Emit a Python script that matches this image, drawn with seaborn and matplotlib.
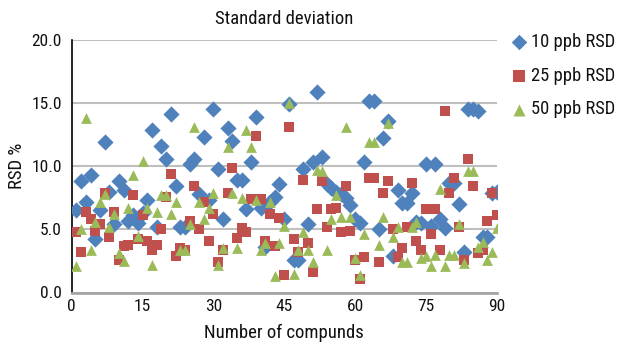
import matplotlib
matplotlib.use("Agg")
import matplotlib.pyplot as plt
from matplotlib import font_manager as fm
import seaborn as sns
import pandas as pd
import numpy as np

sns.set_theme(style="white")
_avail = {f.name for f in fm.fontManager.ttflist}
_fams = [f for f in ['Roboto Condensed', 'Archivo Narrow', 'Barlow Semi Condensed', 'DejaVu Sans Condensed'] if f in _avail]
plt.rcParams['font.family'] = _fams + ['DejaVu Sans']

compounds = list(range(1, 91))

rsd_10 = [6.5, 8.8, 7.2, 9.3, 4.2, 6.5, 11.9, 8.0, 5.4, 8.8,
          8.1, 5.7, 6.1, 5.5, 6.3, 7.3, 12.9, 5.2, 11.6, 10.6,
          14.1, 8.4, 5.2, 5.2, 10.2, 10.6, 7.8, 12.3, 7.3, 14.5,
          9.8, 5.8, 13.0, 12.0, 8.9, 8.9, 6.6, 10.3, 13.9, 6.7,
          3.6, 7.2, 7.6, 8.6, 5.8, 14.9, 2.6, 2.6, 9.8, 5.4,
          10.3, 15.9, 10.7, 8.6, 8.3, 8.0, 7.8, 7.5, 6.9, 5.8,
          5.5, 10.3, 15.2, 15.2, 5.0, 12.2, 13.6, 2.9, 8.1, 7.1,
          7.1, 7.9, 5.6, 5.5, 10.2, 5.3, 10.2, 5.8, 5.1, 8.7,
          8.7, 7.0, 3.2, 14.5, 14.5, 14.4, 4.4, 4.4, 7.9, 8.0]

rsd_25 = [4.8, 3.2, 6.4, 5.8, 4.9, 5.4, 7.9, 4.4, 6.4, 2.6,
          3.7, 3.8, 7.7, 4.2, 6.1, 4.1, 3.4, 3.8, 5.0, 7.6,
          9.4, 2.9, 3.5, 3.4, 5.7, 8.4, 5.0, 7.2, 4.1, 6.2,
          2.4, 3.4, 7.9, 9.9, 4.3, 5.1, 4.8, 7.4, 12.4, 7.4,
          4.1, 6.2, 3.7, 5.9, 1.4, 13.1, 4.2, 3.2, 8.9, 3.9,
          1.6, 6.6, 8.8, 5.2, 6.6, 6.7, 4.8, 8.4, 4.9, 2.6,
          1.1, 2.8, 9.1, 9.1, 2.4, 7.9, 8.8, 5.0, 2.8, 3.5,
          5.2, 8.7, 4.1, 3.4, 6.6, 4.6, 6.6, 3.4, 14.4, 7.9,
          9.1, 5.2, 2.6, 10.6, 8.4, 3.1, 3.4, 5.7, 7.9, 6.1]

rsd_50 = [2.1, 5.0, 13.8, 3.4, 5.6, 7.2, 7.8, 5.2, 6.2, 3.1,
          2.5, 6.7, 9.3, 4.5, 10.4, 6.7, 2.2, 6.4, 7.7, 7.7,
          6.2, 7.2, 3.4, 3.4, 5.4, 13.1, 7.2, 5.8, 6.7, 7.9,
          2.2, 3.5, 11.5, 7.9, 3.5, 7.5, 12.9, 11.5, 7.3, 3.4,
          3.9, 7.2, 1.3, 3.9, 5.3, 15.0, 1.5, 3.4, 4.8, 3.4,
          2.4, 9.7, 9.6, 3.4, 5.8, 7.7, 6.0, 13.1, 6.0, 2.7,
          1.4, 4.6, 11.9, 11.9, 3.8, 6.0, 13.4, 4.4, 5.2, 2.4,
          2.4, 5.2, 5.6, 2.7, 2.9, 2.1, 3.0, 8.2, 2.1, 3.0,
          3.0, 5.4, 2.3, 9.6, 9.6, 3.6, 4.0, 2.6, 3.2, 5.1]

series_names = ["10 ppb RSD", "25 ppb RSD", "50 ppb RSD"]
series_values = [rsd_10, rsd_25, rsd_50]
colors = ["#4F81BD", "#C0504D", "#9BBB59"]
markers = ["D", "s", "^"]
sizes = [68, 48, 60]
legend_sizes = [62, 80, 75]

x_ticks = [0, 15, 30, 45, 60, 75, 90]
y_ticks = [0.0, 5.0, 10.0, 15.0, 20.0]

fig = plt.figure(figsize=(6.17, 3.46), dpi=100)
ax = fig.add_axes([71.7 / 617, (346 - 292.5) / 346, 425 / 617, 252.5 / 346])

for name, vals, c, m, s in zip(series_names, series_values, colors, markers, sizes):
    df = pd.DataFrame({"compound": compounds, "rsd": vals})
    sns.scatterplot(data=df, x="compound", y="rsd", ax=ax, color=c, marker=m,
                    s=s, linewidth=0, label=name, zorder=3)

ax.set_xlim(0, 90)
ax.set_ylim(0, 20)
ax.set_xticks(x_ticks)
ax.set_xticklabels([str(t) for t in x_ticks])
ax.set_yticks(y_ticks)
ax.set_yticklabels([f"{t:.1f}" for t in y_ticks])
ax.set_xlabel("")
ax.set_ylabel("")
ax.yaxis.grid(True, color="#BFBFBF", linewidth=1.5, zorder=0)
ax.xaxis.grid(False)
ax.set_axisbelow(True)
for sp in ["top", "right"]:
    ax.spines[sp].set_visible(False)
ax.spines["left"].set_color("#000000")
ax.spines["left"].set_linewidth(1.2)
ax.spines["bottom"].set_color("#A6A6A6")
ax.spines["bottom"].set_linewidth(2)
ax.tick_params(axis="both", length=0, labelsize=12.5, colors="#111111")
ax.tick_params(axis="y", pad=7)
ax.tick_params(axis="x", pad=5)

fig.text(284 / 617, 1 - 19 / 346, "Standard deviation", ha="center", va="center",
         fontsize=13.5, color="#111111")
fig.text(17 / 617, 1 - 166 / 346, "RSD %", ha="center", va="center", rotation=90,
         fontsize=13.5, color="#111111")
fig.text(284 / 617, 1 - 333 / 346, "Number of compunds", ha="center", va="center",
         fontsize=13.5, color="#111111")

leg = ax.legend(loc="upper left", bbox_to_anchor=(510 / 617, 1 - 33 / 346),
                bbox_transform=fig.transFigure, frameon=False, fontsize=13.3,
                handletextpad=0.15, labelspacing=0.85, borderaxespad=0, borderpad=0,
                handlelength=1.0)
for t in leg.get_texts():
    t.set_color("#111111")
for h, ls in zip(leg.legend_handles, legend_sizes):
    h.set_sizes([ls])

fig.savefig("out.png", dpi=100)
